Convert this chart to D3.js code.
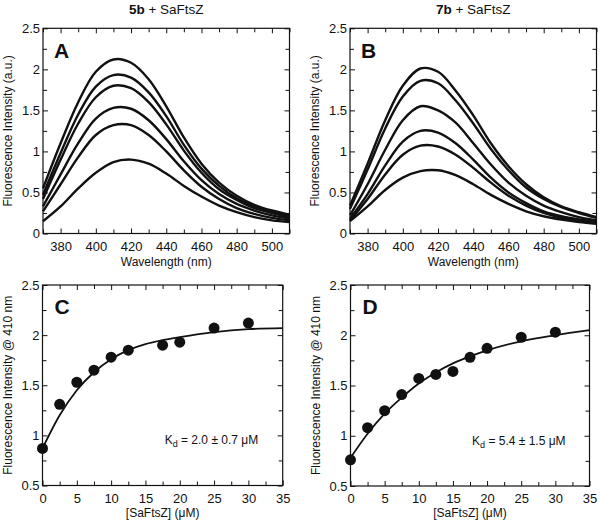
<!DOCTYPE html>
<html>
<head>
<meta charset="utf-8">
<script src="https://cdn.jsdelivr.net/npm/d3@7"></script>
<style>
  body { margin: 0; background: #fff; }
  svg { font-family: "Liberation Sans", Arial, sans-serif; }
</style>
</head>
<body>
<svg id="fig" width="600" height="522"></svg>
<script>
// wavelengths for the emission spectra (nm)
var wavelengths = [370, 380, 390, 400, 410, 420, 430, 440, 450, 460, 470, 480, 490, 500, 510];

// panel A: 5b + SaFtsZ, one spectrum per titration step
var spectraA = [
  [0.55, 1.10, 1.60, 1.97, 2.12, 2.08, 1.88, 1.55, 1.17, 0.85, 0.62, 0.46, 0.35, 0.28, 0.23],
  [0.47, 0.98, 1.45, 1.79, 1.93, 1.90, 1.72, 1.43, 1.08, 0.79, 0.58, 0.43, 0.33, 0.26, 0.21],
  [0.42, 0.90, 1.34, 1.66, 1.80, 1.77, 1.60, 1.33, 1.01, 0.74, 0.54, 0.41, 0.31, 0.25, 0.20],
  [0.33, 0.72, 1.10, 1.40, 1.53, 1.52, 1.38, 1.15, 0.88, 0.65, 0.48, 0.36, 0.28, 0.22, 0.18],
  [0.27, 0.60, 0.93, 1.20, 1.32, 1.32, 1.20, 1.00, 0.77, 0.57, 0.42, 0.31, 0.24, 0.19, 0.16],
  [0.15, 0.33, 0.55, 0.74, 0.87, 0.90, 0.85, 0.73, 0.58, 0.45, 0.34, 0.26, 0.20, 0.16, 0.14]
];

// panel B: 7b + SaFtsZ
var spectraB = [
  [0.34, 0.85, 1.38, 1.80, 2.01, 1.97, 1.74, 1.44, 1.10, 0.82, 0.60, 0.44, 0.33, 0.26, 0.20],
  [0.30, 0.78, 1.28, 1.67, 1.86, 1.83, 1.62, 1.34, 1.03, 0.77, 0.56, 0.42, 0.32, 0.25, 0.19],
  [0.22, 0.60, 1.02, 1.38, 1.55, 1.50, 1.35, 1.10, 0.84, 0.62, 0.46, 0.34, 0.26, 0.20, 0.16],
  [0.18, 0.48, 0.83, 1.12, 1.25, 1.23, 1.10, 0.90, 0.68, 0.50, 0.37, 0.27, 0.21, 0.17, 0.14],
  [0.16, 0.42, 0.72, 0.96, 1.07, 1.06, 0.96, 0.80, 0.62, 0.46, 0.34, 0.25, 0.19, 0.15, 0.12],
  [0.15, 0.33, 0.53, 0.68, 0.76, 0.77, 0.71, 0.60, 0.47, 0.36, 0.27, 0.21, 0.17, 0.14, 0.12]
];

// panel C: intensity at 410 nm vs [SaFtsZ] for 5b
var concC = [0, 2.5, 5, 7.5, 10, 12.5, 17.5, 20, 25, 30];
var intensC = [0.87, 1.31, 1.53, 1.65, 1.78, 1.85, 1.90, 1.93, 2.07, 2.12];
// panel D: same for 7b
var concD = [0, 2.5, 5, 7.5, 10, 12.5, 15, 17.5, 20, 25, 30];
var intensD = [0.76, 1.08, 1.25, 1.41, 1.57, 1.61, 1.64, 1.78, 1.87, 1.98, 2.03];

// fitted binding curves
var fitConc = [0, 2.5, 5, 7.5, 10, 12.5, 15, 17.5, 20, 25, 30, 35];
var fitC = [0.87, 1.20, 1.45, 1.63, 1.76, 1.85, 1.91, 1.95, 1.98, 2.03, 2.06, 2.07];
var fitD = [0.78, 1.02, 1.22, 1.38, 1.52, 1.63, 1.72, 1.79, 1.85, 1.94, 2.00, 2.05];

var wlTicks = [380, 400, 420, 440, 460, 480, 500];
var wlMinor = [370, 390, 410, 430, 450, 470, 490, 510];
var spTicks = [0, 0.5, 1, 1.5, 2, 2.5];
var spMinor = [0.25, 0.75, 1.25, 1.75, 2.25];
var concTicks = [0, 5, 10, 15, 20, 25, 30, 35];
var concMinor = [2.5, 7.5, 12.5, 17.5, 22.5, 27.5, 32.5];
var bindTicks = [0.5, 1, 1.5, 2, 2.5];
var bindMinor = [0.75, 1.25, 1.75, 2.25];

var svg = d3.select("#fig");
var ink = "#111";

function frame(g, x, y, o) {
  var w = x.range()[1] - x.range()[0];
  var h = y.range()[0] - y.range()[1];
  var fmt = function (d) { return d; };

  g.append("g").attr("transform", "translate(0," + h + ")")
    .call(d3.axisBottom(x).tickValues(o.xt).tickSize(-5).tickPadding(8).tickFormat(fmt));
  g.append("g").attr("transform", "translate(0," + h + ")")
    .call(d3.axisBottom(x).tickValues(o.xm).tickSize(-4).tickFormat(""));
  g.append("g").call(d3.axisTop(x).tickValues(o.xt).tickSize(-5).tickFormat(""));
  g.append("g").call(d3.axisTop(x).tickValues(o.xm).tickSize(-4).tickFormat(""));

  g.append("g")
    .call(d3.axisLeft(y).tickValues(o.yt).tickSize(-5).tickPadding(3).tickFormat(fmt));
  g.append("g").call(d3.axisLeft(y).tickValues(o.ym).tickSize(-4).tickFormat(""));
  g.append("g").attr("transform", "translate(" + w + ",0)")
    .call(d3.axisRight(y).tickValues(o.yt).tickSize(-5).tickFormat(""));
  g.append("g").attr("transform", "translate(" + w + ",0)")
    .call(d3.axisRight(y).tickValues(o.ym).tickSize(-4).tickFormat(""));

  g.selectAll(".domain").remove();
  g.selectAll(".tick line").attr("stroke", ink).attr("stroke-width", 1);
  g.selectAll(".tick text").attr("font-size", 13).attr("fill", ink)
    .attr("font-family", "Liberation Sans, Arial, sans-serif");

  g.append("rect").attr("width", w).attr("height", h)
    .attr("fill", "none").attr("stroke", ink).attr("stroke-width", 1.2);

  g.append("text").attr("x", o.lx).attr("y", o.ly)
    .attr("font-size", 21).attr("font-weight", "bold").attr("fill", ink)
    .text(o.letter);

  g.append("text").attr("x", w / 2).attr("y", h + o.xlabY)
    .attr("text-anchor", "middle").attr("font-size", 12).attr("fill", ink)
    .text(o.xlab);

  g.append("text")
    .attr("transform", "translate(" + o.ylabX + "," + (h / 2) + ") rotate(-90)")
    .attr("text-anchor", "middle").attr("font-size", 12).attr("fill", ink)
    .text(o.ylab);
}

function spectraPanel(left, top, right, bottom, data, letter, compound) {
  var x = d3.scaleLinear().domain([370, 510]).range([0, right - left]);
  var y = d3.scaleLinear().domain([0, 2.5]).range([bottom - top, 0]);
  var g = svg.append("g").attr("transform", "translate(" + left + "," + top + ")");

  var line = d3.line()
    .x(function (d, i) { return x(wavelengths[i]); })
    .y(function (d) { return y(d); })
    .curve(d3.curveCatmullRom.alpha(0.5));

  g.selectAll(".spec").data(data).enter().append("path")
    .attr("class", "spec")
    .attr("d", line)
    .attr("fill", "none").attr("stroke", ink).attr("stroke-width", 2.4);

  frame(g, x, y, {
    xt: wlTicks, xm: wlMinor, yt: spTicks, ym: spMinor,
    letter: letter, lx: 11, ly: 30,
    xlab: "Wavelength (nm)", xlabY: 33,
    ylab: "Fluorescence Intensity (a.u.)", ylabX: -31
  });

  var t = svg.append("text")
    .attr("x", left + (right - left) / 2).attr("y", 13.5)
    .attr("text-anchor", "middle").attr("font-size", 13.5).attr("fill", ink);
  t.append("tspan").attr("font-weight", "bold").text(compound);
  t.append("tspan").text(" + SaFtsZ");
}

function bindingPanel(left, top, right, bottom, cx, cy, fit, letter, kd, err) {
  var x = d3.scaleLinear().domain([0, 35]).range([0, right - left]);
  var y = d3.scaleLinear().domain([0.5, 2.5]).range([bottom - top, 0]);
  var g = svg.append("g").attr("transform", "translate(" + left + "," + top + ")");

  var line = d3.line()
    .x(function (d, i) { return x(fitConc[i]); })
    .y(function (d) { return y(d); })
    .curve(d3.curveMonotoneX);

  g.append("path").datum(fit).attr("d", line)
    .attr("fill", "none").attr("stroke", ink).attr("stroke-width", 1.8);

  g.selectAll(".pt").data(cy).enter().append("circle")
    .attr("class", "pt")
    .attr("cx", function (d, i) { return x(cx[i]); })
    .attr("cy", function (d) { return y(d); })
    .attr("r", 5.5).attr("fill", ink);

  frame(g, x, y, {
    xt: concTicks, xm: concMinor, yt: bindTicks, ym: bindMinor,
    letter: letter, lx: 12, ly: 29,
    xlab: "[SaFtsZ] (\u03bcM)", xlabY: 31,
    ylab: "Fluorescence Intensity @ 410 nm", ylabX: -31
  });

  var k = g.append("text").attr("x", x(17.8)).attr("y", y(0.91))
    .attr("font-size", 12).attr("fill", ink);
  k.append("tspan").text("K");
  k.append("tspan").attr("font-size", 9).attr("dy", 3).text("d");
  k.append("tspan").attr("dy", -3).text(" = " + kd + " \u00b1 " + err + " \u03bcM");
}

spectraPanel(43, 28.3, 289.5, 233.5, spectraA, "A", "5b");
spectraPanel(350, 28.3, 596.5, 233.5, spectraB, "B", "7b");
bindingPanel(42.5, 285, 282.7, 485.5, concC, intensC, fitC, "C", "2.0", "0.7");
bindingPanel(350.5, 285, 589.5, 486, concD, intensD, fitD, "D", "5.4", "1.5");
</script>
</body>
</html>
